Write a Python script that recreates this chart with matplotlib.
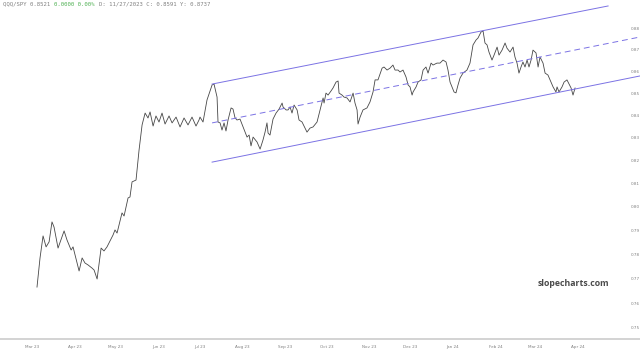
import numpy as np
import pandas as pd
import matplotlib
matplotlib.use('Agg')
import matplotlib.pyplot as plt
from matplotlib.ticker import FixedLocator, FixedFormatter, NullLocator

# QQQ/SPY ratio with a regression channel (slopecharts style)
inicio = pd.Timestamp('2023-03-01')

# days after Mar 1 2023
dias = [3.6, 5.8, 8.0, 10.2, 12.4, 14.5, 16.0, 18.9, 23.3, 25.4, 28.4, 29.8, 34.2, 36.4,
        38.5, 40.7, 43.6, 45.1, 47.3, 50.2, 52.3, 54.5, 58.9, 60.3, 61.8, 65.4, 66.9, 69.8,
        71.2, 72.7, 75.6, 77.8, 80.0, 82.2, 84.3, 85.8, 88.0, 90.1, 92.3, 94.5, 96.7, 99.6,
        101.8, 104.7, 107.6, 110.5, 113.4, 116.3, 119.2, 121.4,
        122.1, 124.3, 127.2, 130.9, 132.3, 134.5, 135.2, 136.7, 138.1, 139.6, 141.0, 142.5,
        144.7, 146.1, 147.6, 149.0, 151.2, 153.4, 156.3, 157.8, 159.2, 160.7, 163.6, 165.8,
        167.9, 169.4, 170.8, 171.6, 173.0, 175.2, 177.4, 179.6, 181.8, 182.5, 184.7, 186.1,
        187.6, 189.0, 190.5, 192.7, 194.1, 196.3, 198.5, 199.9, 202.1, 204.3, 207.2, 209.4,
        211.6, 212.3, 213.7, 215.2, 217.4, 218.8, 221.0, 222.5, 223.2, 225.4, 226.8, 229.0,
        231.2, 233.4, 234.8, 236.3, 237.0, 238.5, 240.6, 243.5, 245.7, 247.9, 249.4, 251.5,
        254.5, 255.9, 258.1, 260.3, 262.4, 263.9, 266.1,
        267.5, 269.7, 271.9, 273.4, 274.8, 276.3, 277.0, 279.2, 280.6, 282.8, 284.3, 286.4,
        287.9, 290.1, 291.5, 294.4, 296.6, 298.8, 301.0, 302.4, 303.9, 305.3, 306.8, 308.2,
        309.7, 311.2, 313.3, 316.2, 318.4, 320.6, 322.8, 324.2, 326.4, 327.9, 329.3, 330.8,
        332.2, 334.4, 335.9, 338.1, 339.5, 341.7, 343.9, 345.3, 347.5, 349.7, 351.1, 352.6,
        354.0, 355.5, 356.9, 358.4, 359.9, 361.3, 362.8, 364.2, 366.4, 367.9, 369.3, 371.5,
        373.0, 375.1, 377.3, 378.8, 380.9, 381.7, 383.1, 385.3, 386.8, 388.9, 389.7, 391.9,
        393.3, 394.8]

razao = [0.7665, 0.7785, 0.7877, 0.7831, 0.7852, 0.7936, 0.7914, 0.7826, 0.7898, 0.7860,
         0.7818, 0.7831, 0.7731, 0.7785, 0.7764, 0.7756, 0.7743, 0.7735, 0.7698, 0.7826,
         0.7814, 0.7831, 0.7881, 0.7902, 0.7889, 0.7974, 0.7961, 0.8038, 0.8042, 0.8107,
         0.8115, 0.8246, 0.8357, 0.8410, 0.8388, 0.8415, 0.8352, 0.8397, 0.8370, 0.8410,
         0.8361, 0.8397, 0.8366, 0.8392, 0.8348, 0.8388, 0.8357, 0.8392, 0.8352, 0.8379,
         0.8392, 0.8370, 0.8469, 0.8537, 0.8541, 0.8482, 0.8370, 0.8366, 0.8334, 0.8366,
         0.8330, 0.8379, 0.8433, 0.8428, 0.8388, 0.8379, 0.8383, 0.8348, 0.8303, 0.8312,
         0.8264, 0.8303, 0.8281, 0.8250, 0.8290, 0.8325, 0.8366, 0.8321, 0.8312, 0.8383,
         0.8410, 0.8428, 0.8455, 0.8437, 0.8424, 0.8424, 0.8437, 0.8410, 0.8446, 0.8424,
         0.8379, 0.8370, 0.8343, 0.8325, 0.8343, 0.8348, 0.8370, 0.8424, 0.8478, 0.8455,
         0.8500, 0.8491, 0.8510, 0.8523, 0.8550, 0.8555, 0.8500, 0.8491, 0.8482, 0.8478,
         0.8460, 0.8500, 0.8455, 0.8424, 0.8361, 0.8392, 0.8424, 0.8433, 0.8460, 0.8505,
         0.8560, 0.8560, 0.8614, 0.8619, 0.8605, 0.8614, 0.8628, 0.8605, 0.8605,
         0.8596, 0.8605, 0.8573, 0.8537, 0.8528, 0.8491, 0.8505, 0.8528, 0.8550, 0.8560,
         0.8605, 0.8619, 0.8591, 0.8637, 0.8628, 0.8637, 0.8637, 0.8651, 0.8642, 0.8605,
         0.8550, 0.8528, 0.8505, 0.8501, 0.8537, 0.8569, 0.8591, 0.8605, 0.8637, 0.8721,
         0.8744, 0.8753, 0.8781, 0.8786, 0.8730, 0.8721, 0.8688, 0.8651, 0.8674, 0.8711,
         0.8674, 0.8697, 0.8730, 0.8706, 0.8688, 0.8711, 0.8665, 0.8637, 0.8591, 0.8619,
         0.8642, 0.8619, 0.8651, 0.8619, 0.8651, 0.8697, 0.8684, 0.8619, 0.8665, 0.8637,
         0.8591, 0.8582, 0.8550, 0.8528, 0.8505, 0.8528, 0.8505, 0.8528, 0.8550, 0.8560,
         0.8550, 0.8523, 0.8491, 0.8523]

# channel lines (start / end)
canal_dias = [130.9, 442.0]
canal_sup_dias = [130.9, 418.8]
canal_sup = [0.8541, 0.8904]
canal_meio = [0.8366, 0.8758]
canal_inf = [0.8193, 0.8578]

yticks = [0.75, 0.76, 0.77, 0.78, 0.79, 0.80, 0.81, 0.82, 0.83, 0.84, 0.85, 0.86, 0.87, 0.88]
meses = pd.date_range('2023-03-01', '2024-04-01', freq='MS')

datas = inicio + pd.to_timedelta(dias, unit='D')
cd = inicio + pd.to_timedelta(canal_dias, unit='D')
csd = inicio + pd.to_timedelta(canal_sup_dias, unit='D')

fig = plt.figure(figsize=(6.4, 3.54), dpi=100)
ax = fig.add_axes([0, 15 / 354, 1, 339 / 354])

ax.plot(datas, razao, color='#474747', lw=0.6)
cor_canal = '#7b72e4'
ax.plot(csd, canal_sup, color=cor_canal, lw=0.7)
ax.plot(cd, canal_meio, color=cor_canal, lw=0.7, ls=(0, (6, 4)))
ax.plot(cd, canal_inf, color=cor_canal, lw=0.7)

ax.set_yscale('log')
ax.set_ylim(0.74558, 0.89324)
ax.set_xlim(inicio - pd.Timedelta(days=23.3), inicio + pd.Timedelta(days=442.0))

ax.yaxis.set_major_locator(FixedLocator(yticks))
ax.yaxis.set_major_formatter(FixedFormatter(['%.2f' % t for t in yticks]))
ax.yaxis.set_minor_locator(NullLocator())
ax.tick_params(axis='y', which='both', left=False, right=False, labelleft=False,
               labelright=True, length=0, pad=-7, labelsize=3, labelcolor='#808080')

ax.set_xticks(meses)
ax.set_xticklabels([m.strftime('%b %y') for m in meses])
ax.xaxis.set_minor_locator(NullLocator())
ax.tick_params(axis='x', which='both', length=0, pad=4, labelsize=3, labelcolor='#808080')

for lado in ['top', 'left', 'right']:
    ax.spines[lado].set_visible(False)
ax.spines['bottom'].set_color('#cccccc')
ax.spines['bottom'].set_linewidth(1.2)

# header
fs = 4.1
cw = fs * 0.602 * 100 / 72
mono = 'DejaVu Sans Mono'
ax.annotate('QQQ/SPY 0.8521', xy=(3, 350), xycoords='figure pixels', va='center',
            family=mono, fontsize=fs, color='#808080')
ax.annotate('0.0000 0.00%', xy=(3 + 15 * cw, 350), xycoords='figure pixels', va='center',
            family=mono, fontsize=fs, color='#4caf50')
ax.annotate('D: 11/27/2023 C: 0.8591 Y: 0.8737', xy=(3 + 28 * cw, 350),
            xycoords='figure pixels', va='center', family=mono, fontsize=fs, color='#808080')

fig.text(573 / 640, 1 - 284 / 354, 'slopecharts.com', ha='center', va='center',
         fontsize=6.3, fontweight='bold', color='#4a4a4a', family='Open Sans')

fig.savefig('out.png', dpi=100)
